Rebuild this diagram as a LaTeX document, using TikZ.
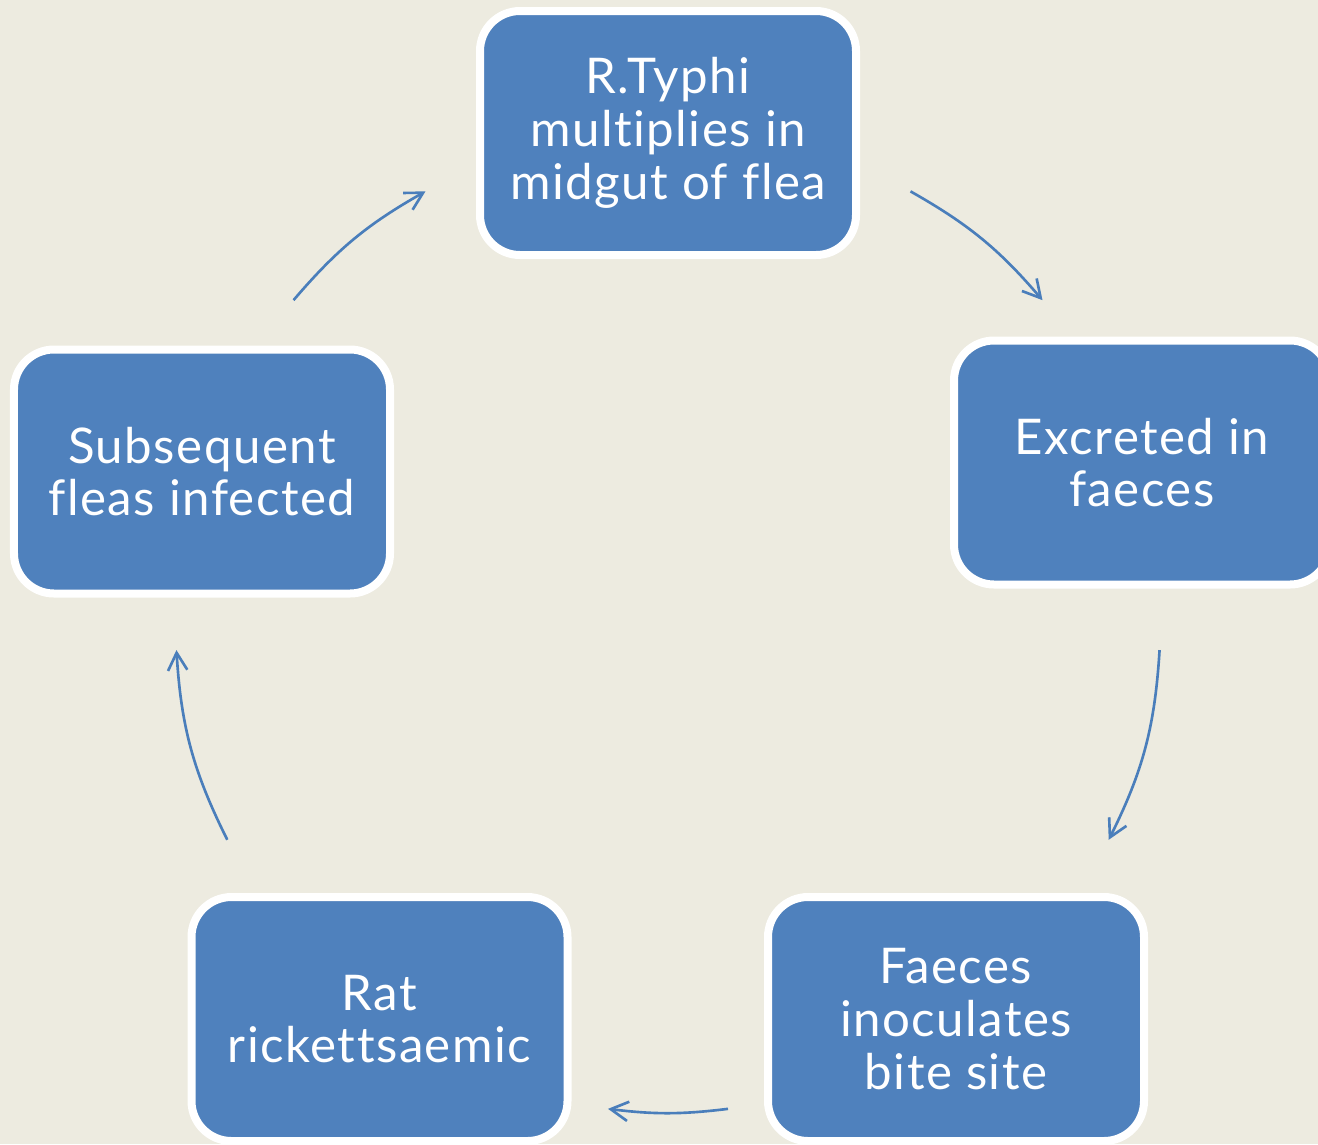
\documentclass[tikz,border=0pt]{standalone}
\usepackage{fontspec}
\setmainfont{Lato}[Ligatures=CommonOff, LetterSpace=3]
\usetikzlibrary{arrows.meta}
\definecolor{paper}{RGB}{237,235,224}
\definecolor{boxblue}{RGB}{79,129,189}
\definecolor{arrowblue}{RGB}{74,126,187}

\tikzset{
	stage/.style={rectangle, rounded corners=0.8cm, fill=boxblue, draw=white,
		line width=0.16cm, minimum width=7.52cm, minimum height=4.88cm,
		inner sep=0pt, align=center, text=white,
		font=\fontsize{28}{30}\selectfont},
	flow/.style={draw=arrowblue, line width=1.5pt,
		-{Straight Barb[length=10pt,width=11pt]}}
}

\begin{document}
\begin{tikzpicture}

	\fill[paper] (0,0) rectangle (26.36,-22.88);
	\useasboundingbox (0,0) rectangle (26.36,-22.88);

	% the five stages of the cycle
	\node[stage] (flea) at (13.36,-2.66) {R.Typhi\\multiplies in\\midgut of flea};
	\node[stage] (faeces) at (22.84,-9.25) {Excreted in\\faeces};
	\node[stage] (bite) at (19.12,-20.38) {Faeces\\inoculates\\bite site};
	\node[stage] (rat) at (7.59,-20.38) {Rat\\rickettsaemic};
	\node[stage] (fleas) at (4.04,-9.43) {Subsequent\\fleas infected};

	% arrow ends on a circle round the middle
	\coordinate (hub) at (13.36,-12.4);
	\coordinate (a1s) at ([shift={(60.5:9.85)}]hub);
	\coordinate (a1e) at ([shift={(40.5:9.85)}]hub);
	\coordinate (a2s) at ([shift={(-3.5:9.85)}]hub);
	\coordinate (a2e) at ([shift={(-26.5:9.85)}]hub);
	\coordinate (a3s) at ([shift={(-83:9.85)}]hub);
	\coordinate (a3e) at ([shift={(-97:9.85)}]hub);
	\coordinate (a4s) at ([shift={(206.5:9.85)}]hub);
	\coordinate (a4e) at ([shift={(183.5:9.85)}]hub);
	\coordinate (a5s) at ([shift={(139.5:9.85)}]hub);
	\coordinate (a5e) at ([shift={(119.5:9.85)}]hub);

	\draw[flow] (a1s) to[bend left=10] (a1e);
	\draw[flow] (a2s) to[bend left=11.5] (a2e);
	\draw[flow] (a3s) to[bend left=7] (a3e);
	\draw[flow] (a4s) to[bend left=11.5] (a4e);
	\draw[flow] (a5s) to[bend left=10] (a5e);

\end{tikzpicture}
\end{document}
